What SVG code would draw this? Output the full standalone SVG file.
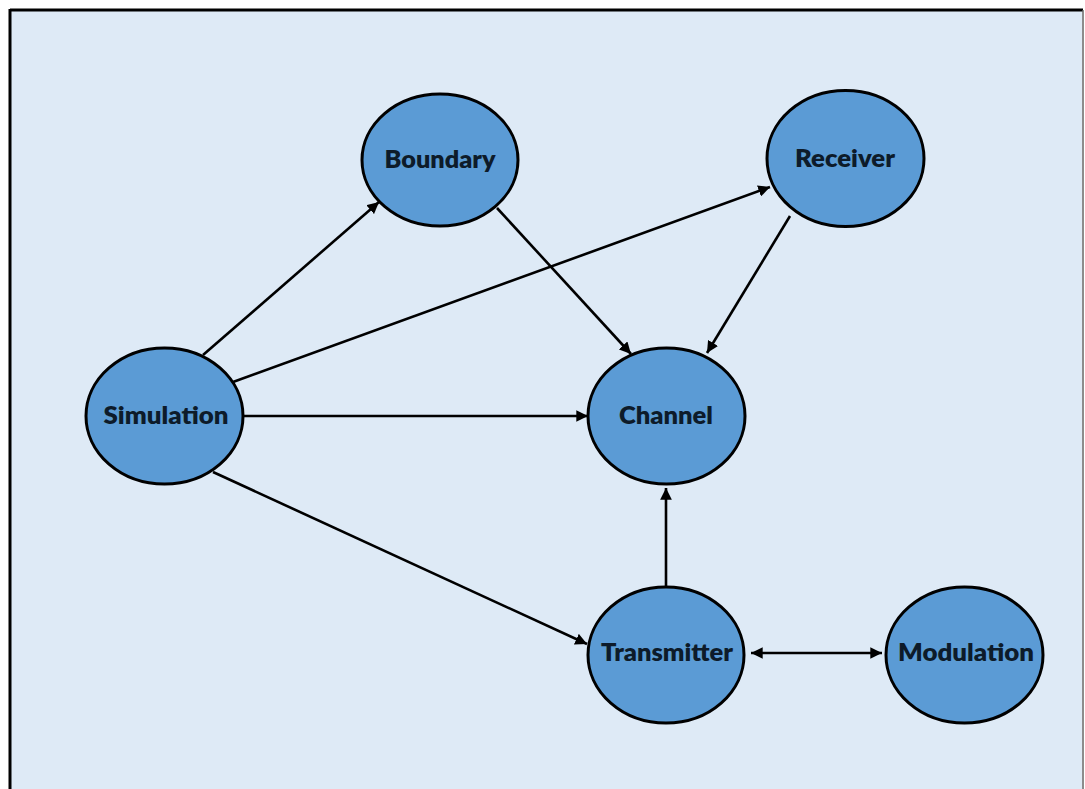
<svg xmlns="http://www.w3.org/2000/svg" width="1085" height="789" viewBox="0 0 1085 789">
  <defs>
    <marker id="arr" viewBox="0 0 10 10" refX="10" refY="5" markerWidth="4.5" markerHeight="4.5" markerUnits="strokeWidth" orient="auto-start-reverse">
      <path d="M0,0 L10,5 L0,10 z" fill="#000"/>
    </marker>
    <style>
      .node ellipse { fill: #5B9BD5; stroke: #000; stroke-width: 3; }
      .node text { font-family: Lato, "Open Sans", "Liberation Sans", sans-serif; font-weight: 800; font-size: 25px; fill: #0d1b2a; text-anchor: middle; }
      .edge { stroke: #000; stroke-width: 2.6; fill: none; marker-end: url(#arr); }
    </style>
  </defs>
  <rect x="0" y="0" width="1085" height="789" fill="#ffffff"/>
  <rect x="10" y="10" width="1072" height="790" fill="#DEEAF6"/>
  <line x1="10" y1="10" x2="1083" y2="10" stroke="#000" stroke-width="3"/>
  <line x1="10" y1="9" x2="10" y2="789" stroke="#000" stroke-width="3"/>
  <line x1="1083" y1="10" x2="1083" y2="789" stroke="#666" stroke-width="1.5"/>

  <g id="connectors">
    <line class="edge" x1="203" y1="355" x2="379" y2="202"/>
    <line class="edge" x1="233" y1="382" x2="770" y2="187"/>
    <line class="edge" x1="243" y1="416" x2="588" y2="416"/>
    <line class="edge" x1="213" y1="472" x2="587" y2="644"/>
    <line class="edge" x1="497" y1="208" x2="631" y2="354"/>
    <line class="edge" x1="790" y1="216" x2="707" y2="353"/>
    <line class="edge" x1="666" y1="587" x2="666" y2="488"/>
    <line class="edge" x1="751" y1="653" x2="882" y2="653" style="marker-start:url(#arr)"/>
  </g>

  <g id="node-boundary" class="node">
    <ellipse cx="440" cy="160" rx="78" ry="66"/>
    <text x="440" y="168" textLength="111" lengthAdjust="spacingAndGlyphs">Boundary</text>
  </g>
  <g id="node-receiver" class="node">
    <ellipse cx="845.5" cy="158.5" rx="78.5" ry="68"/>
    <text x="845" y="167" textLength="100" lengthAdjust="spacingAndGlyphs">Receiver</text>
  </g>
  <g id="node-simulation" class="node">
    <ellipse cx="164.5" cy="416" rx="78.5" ry="68"/>
    <text x="166" y="424" textLength="125" lengthAdjust="spacingAndGlyphs">Simulation</text>
  </g>
  <g id="node-channel" class="node">
    <ellipse cx="666.5" cy="416" rx="78.5" ry="68"/>
    <text x="666" y="424" textLength="94" lengthAdjust="spacingAndGlyphs">Channel</text>
  </g>
  <g id="node-transmitter" class="node">
    <ellipse cx="666" cy="655" rx="78" ry="68"/>
    <text x="667" y="661" textLength="132" lengthAdjust="spacingAndGlyphs">Transmitter</text>
  </g>
  <g id="node-modulation" class="node">
    <ellipse cx="964.5" cy="655" rx="78.5" ry="68"/>
    <text x="966" y="661" textLength="136" lengthAdjust="spacingAndGlyphs">Modulation</text>
  </g>
</svg>
